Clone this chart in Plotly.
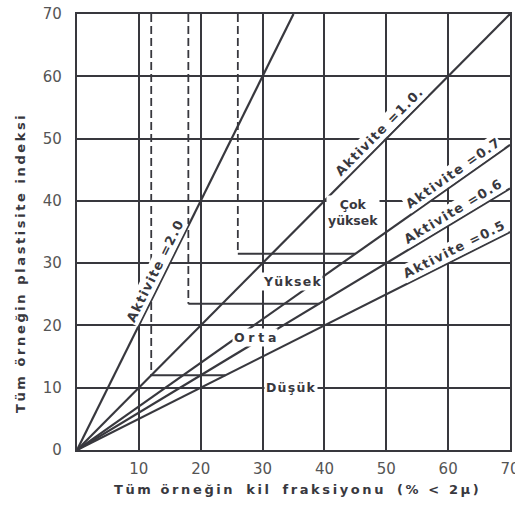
import math
import plotly.graph_objects as go

# Activity lines: plasticity index = activity * clay fraction
activities = [2.0, 1.0, 0.7, 0.6, 0.5]
activity_labels = ["Aktivite =2.0", "Aktivite =1.0.", "Aktivite =0.7",
                   "Aktivite =0.6", "Aktivite =0.5"]
label_x = [14.0, 50.0, 61.6, 61.6, 61.6]   # clay fraction where each label sits

# Zone boundaries: dashed vertical (clay %) down to a horizontal step (PI)
# that runs to the activity line it meets
bound_x = [12, 18, 26]
bound_y = [12, 23.5, 31.5]
bound_act = [0.5, 0.6, 0.7]

# Zone names and their positions (clay %, PI)
zone_names = ["Düşük", "Orta", "Yüksek", "Çok<br>yüksek"]
zone_x = [34.6, 28.8, 34.8, 44.6]
zone_y = [10.0, 18.1, 27.0, 38.2]

x_ticks = [10, 20, 30, 40, 50, 60, 70]
y_ticks = [0, 10, 20, 30, 40, 50, 60, 70]
x_title_words = ["Tüm örneğin", "kil", "fraksiyonu", "(% < 2μ)"]
y_title = "Tüm örneğin plastisite indeksi"

XMAX, YMAX = 70, 70
W, H = 515, 506
ML, MR, MT, MB = 77, 5, 14, 56
ink = "#38383e"
font_fam = "DejaVu Sans"

sx = (W - ML - MR) / XMAX
sy = (H - MT - MB) / YMAX


def spaced(text, gap="\u200a", word_gap="\u00a0"):
    """Letter-spaced text; ordinary spaces become non-breaking ones."""
    return gap.join(word_gap if ch == " " else ch for ch in text)


fig = go.Figure()

# activity lines from the origin to the edge of the chart
for a in activities:
    xe = min(XMAX, YMAX / a)
    fig.add_trace(go.Scatter(x=[0, xe], y=[0, a * xe], mode="lines",
                             line=dict(color=ink, width=2.2),
                             hoverinfo="skip", showlegend=False))

# zone boundaries
for bx, by, ba in zip(bound_x, bound_y, bound_act):
    fig.add_trace(go.Scatter(x=[bx, bx], y=[YMAX, by], mode="lines",
                             line=dict(color=ink, width=1.8, dash="8px,4px"),
                             hoverinfo="skip", showlegend=False))
    fig.add_trace(go.Scatter(x=[bx, by / ba], y=[by, by], mode="lines",
                             line=dict(color=ink, width=2),
                             hoverinfo="skip", showlegend=False))

# labels along the activity lines
for a, txt, lx in zip(activities, activity_labels, label_x):
    th = math.atan(a * sy / sx)
    d = 10
    fig.add_annotation(x=lx, y=a * lx, text=spaced(txt), showarrow=False,
                       textangle=-math.degrees(th),
                       xshift=-d * math.sin(th), yshift=d * math.cos(th),
                       bgcolor="white", borderpad=1,
                       font=dict(family=font_fam, size=13, color=ink, weight="bold"))

# zone names
for name, zx, zy in zip(zone_names, zone_x, zone_y):
    if "<br>" in name:
        txt = name
    elif name == "Orta":
        txt = spaced(name, "\u2009\u200a")
    else:
        txt = spaced(name)
    fig.add_annotation(x=zx, y=zy, text=txt, showarrow=False,
                       bgcolor="white", borderpad=1,
                       font=dict(family=font_fam, size=12.5, color=ink, weight="bold"))

# axis titles
x_title = "\u00a0\u00a0\u00a0".join(spaced(w, "\u2009") for w in x_title_words)
fig.add_annotation(xref="paper", yref="paper", x=(296 - ML) / (W - ML - MR),
                   y=(H - MB - 490) / (H - MT - MB), text=x_title, showarrow=False,
                   xanchor="center", yanchor="middle",
                   font=dict(family=font_fam, size=13, color=ink, weight="bold"))
fig.add_annotation(xref="paper", yref="paper", x=(20 - ML) / (W - ML - MR),
                   y=(H - MB - 264) / (H - MT - MB),
                   text=spaced(y_title, "\u2009"),
                   showarrow=False, textangle=-90,
                   xanchor="center", yanchor="middle",
                   font=dict(family=font_fam, size=13, color=ink, weight="bold"))

axis_common = dict(showgrid=True, gridcolor=ink, gridwidth=1.5, zeroline=False,
                   showline=True, linecolor=ink, linewidth=2.2, mirror=True,
                   ticks="", automargin=False, ticklabeloverflow="allow",
                   tickfont=dict(family=font_fam, size=15, color="#555"))

fig.update_layout(
    width=W, height=H, template="none",
    margin=dict(l=ML, r=MR, t=MT, b=MB),
    paper_bgcolor="white", plot_bgcolor="white",
    xaxis=dict(range=[0, XMAX], tickvals=x_ticks, ticklabelstandoff=4, **axis_common),
    yaxis=dict(range=[0, YMAX], tickvals=y_ticks, ticklabelstandoff=10, **axis_common),
    showlegend=False,
)

fig.write_html("out.html")
